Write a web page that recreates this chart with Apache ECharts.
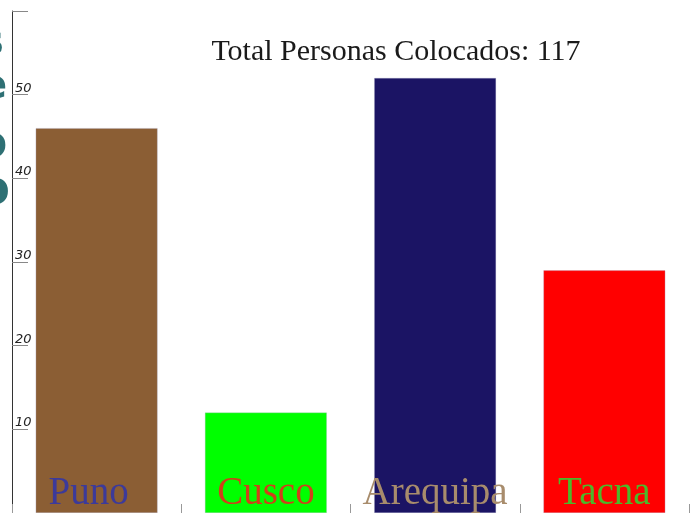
<!DOCTYPE html>
<html><head><meta charset="utf-8">
<script src="https://cdn.jsdelivr.net/npm/echarts@6/dist/echarts.min.js"></script>
<style>html,body{margin:0;padding:0;background:#fff}#c{width:698px;height:513px}</style>
</head><body><div id="c"></div>
<script>
var categories = ['Puno', 'Cusco', 'Arequipa', 'Tacna'];
var values = [46, 12, 52, 29];
var barColors = ['#8B5E34', '#00FF00', '#1B1464', '#FF0000'];
var labelColors = ['#3C3A9A', '#D0401A', '#A88C6C', '#4CB82A'];
var titleText = 'Total Personas Colocados: 117';
var yTicks = [10, 20, 30, 40, 50];

var rich = {};
categories.forEach(function (c, i) {
  rich['c' + i] = {
    color: labelColors[i], fontFamily: 'Liberation Serif', fontSize: 39,
    padding: i === 0 ? [0, 16, 0, 0] : [0, 0, 0, 0]
  };
});

var chart = echarts.init(document.getElementById('c'), null, {renderer: 'canvas'});
chart.setOption({
  animation: false,
  backgroundColor: '#fff',
  title: {
    text: titleText, left: 391, top: 32, textAlign: 'center',
    textStyle: {fontFamily: 'Liberation Serif', fontWeight: 'normal', fontSize: 30, color: '#1a1a1a'}
  },
  graphic: [
    {type: 'text', left: -20, top: 24, style: {text: 's', font: 'bold 40px DejaVu Sans', fill: '#2E7074'}},
    {type: 'text', left: -20, top: 68, style: {text: 'e', font: 'bold 40px DejaVu Sans', fill: '#2E7074'}},
    {type: 'text', left: -23, top: 124, style: {text: 'o', font: 'bold 44px DejaVu Sans', fill: '#2E7074'}},
    {type: 'text', left: -23, top: 168, style: {text: 'o', font: 'bold 48px DejaVu Sans', fill: '#2E7074'}}
  ],
  grid: {left: 12, right: 9, top: 11, bottom: 0, containLabel: false},
  xAxis: {
    type: 'category', data: categories,
    axisLine: {show: false},
    axisTick: {show: true, inside: true, length: 9, lineStyle: {color: '#999'}},
    axisLabel: {
      inside: true, margin: 0, verticalAlign: 'bottom', interval: 0,
      fontFamily: 'Liberation Serif', fontSize: 39,
      formatter: function (v) { var i = categories.indexOf(v); return '{c' + i + '|' + v + '}'; },
      rich: rich
    },
    z: 10
  },
  yAxis: {
    type: 'value', min: 0, max: 60, interval: 10,
    axisLine: {show: true, lineStyle: {color: '#333', width: 1}},
    axisTick: {show: true, inside: true, length: 16, lineStyle: {color: '#888'}},
    splitLine: {show: false},
    axisLabel: {
      inside: true, margin: 3, verticalAlign: 'bottom',
      fontFamily: 'DejaVu Sans', fontStyle: 'italic', fontSize: 13, color: '#222',
      formatter: function (v) { return yTicks.indexOf(v) >= 0 ? String(v) : ''; }
    }
  },
  series: [{
    type: 'bar',
    data: values.map(function (v, i) { return {value: v, itemStyle: {color: barColors[i]}}; }),
    barWidth: '72%',
    itemStyle: {borderColor: 'rgba(170,170,200,0.6)', borderWidth: 0.5},
    z: 2
  }]
});
</script></body></html>
